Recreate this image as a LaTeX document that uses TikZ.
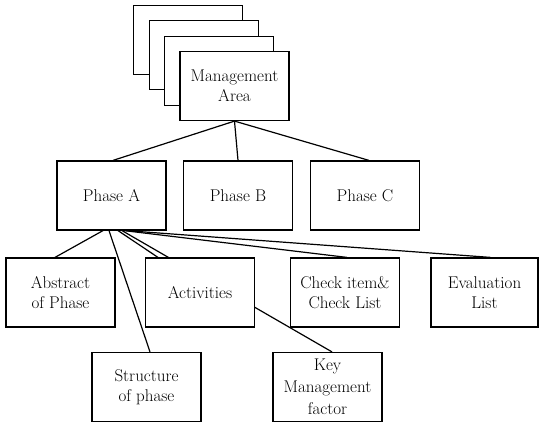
\documentclass[tikz,border=0pt]{standalone}
\usepackage{fontspec}
\usetikzlibrary{backgrounds}
\tikzset{
  box/.style={draw, fill=white, line width=1.2pt, minimum width=109pt, minimum height=69pt,
    inner sep=0pt, align=center, font=\fontsize{17}{20}\selectfont},
  card/.style={draw, fill=white, line width=1.2pt, minimum width=109pt, minimum height=69pt, inner sep=0pt},
  link/.style={line width=1.2pt}
}
\begin{document}
\begin{tikzpicture}[x=1pt,y=-1pt]
\useasboundingbox (0,0) rectangle (539,423);
% stacked cards
\node[card] (c1) at (188,40) {};
\node[card] (c2) at (204,55) {};
\node[card] (c3) at (219,71) {};
\node[box] (ma) at (234.5,86) {Management\\Area};
% phases
\node[box] (pa) at (111.5,195.5) {Phase A};
\node[box] (pb) at (238,195.5) {Phase B};
\node[box] (pc) at (365,195.5) {Phase C};
% bottom level
\node[box] (ab) at (60.5,292.5) {Abstract\\of Phase};
\node[box] (ac) at (200,292.5) {Activities};
\node[box] (ck) at (345,292.5) {Check item\&\\Check List};
\node[box, minimum width=107pt] (ev) at (484.5,292.5) {Evaluation\\List};
\node[box] (st) at (146.5,387) {Structure\\of phase};
\node[box, font=\fontsize{17}{22}\selectfont] (km) at (327.5,387) {Key\\Management\\factor};
\begin{pgfonlayer}{background}
\draw[link] (ma.south) -- ([xshift=1.5pt]pa.north);
\draw[link] (ma.south) -- (pb.north);
\draw[link] (ma.south) -- ([xshift=4pt]pc.north);
\draw[link] ([xshift=-8.5pt]pa.south) -- ([xshift=-5.5pt]ab.north);
\draw[link] ([xshift=-2.5pt]pa.south) -- ([xshift=3.5pt]st.north);
\draw[link] ([xshift=6.5pt]pa.south) -- ([xshift=-42pt]ac.north);
\draw[link] ([xshift=10.5pt]pa.south) -- ([xshift=4.5pt]km.north);
\draw[link] ([xshift=12.5pt]pa.south) -- ([xshift=2pt]ck.north);
\draw[link] ([xshift=14.5pt]pa.south) -- ([xshift=6pt]ev.north);
\end{pgfonlayer}
\end{tikzpicture}
\end{document}
